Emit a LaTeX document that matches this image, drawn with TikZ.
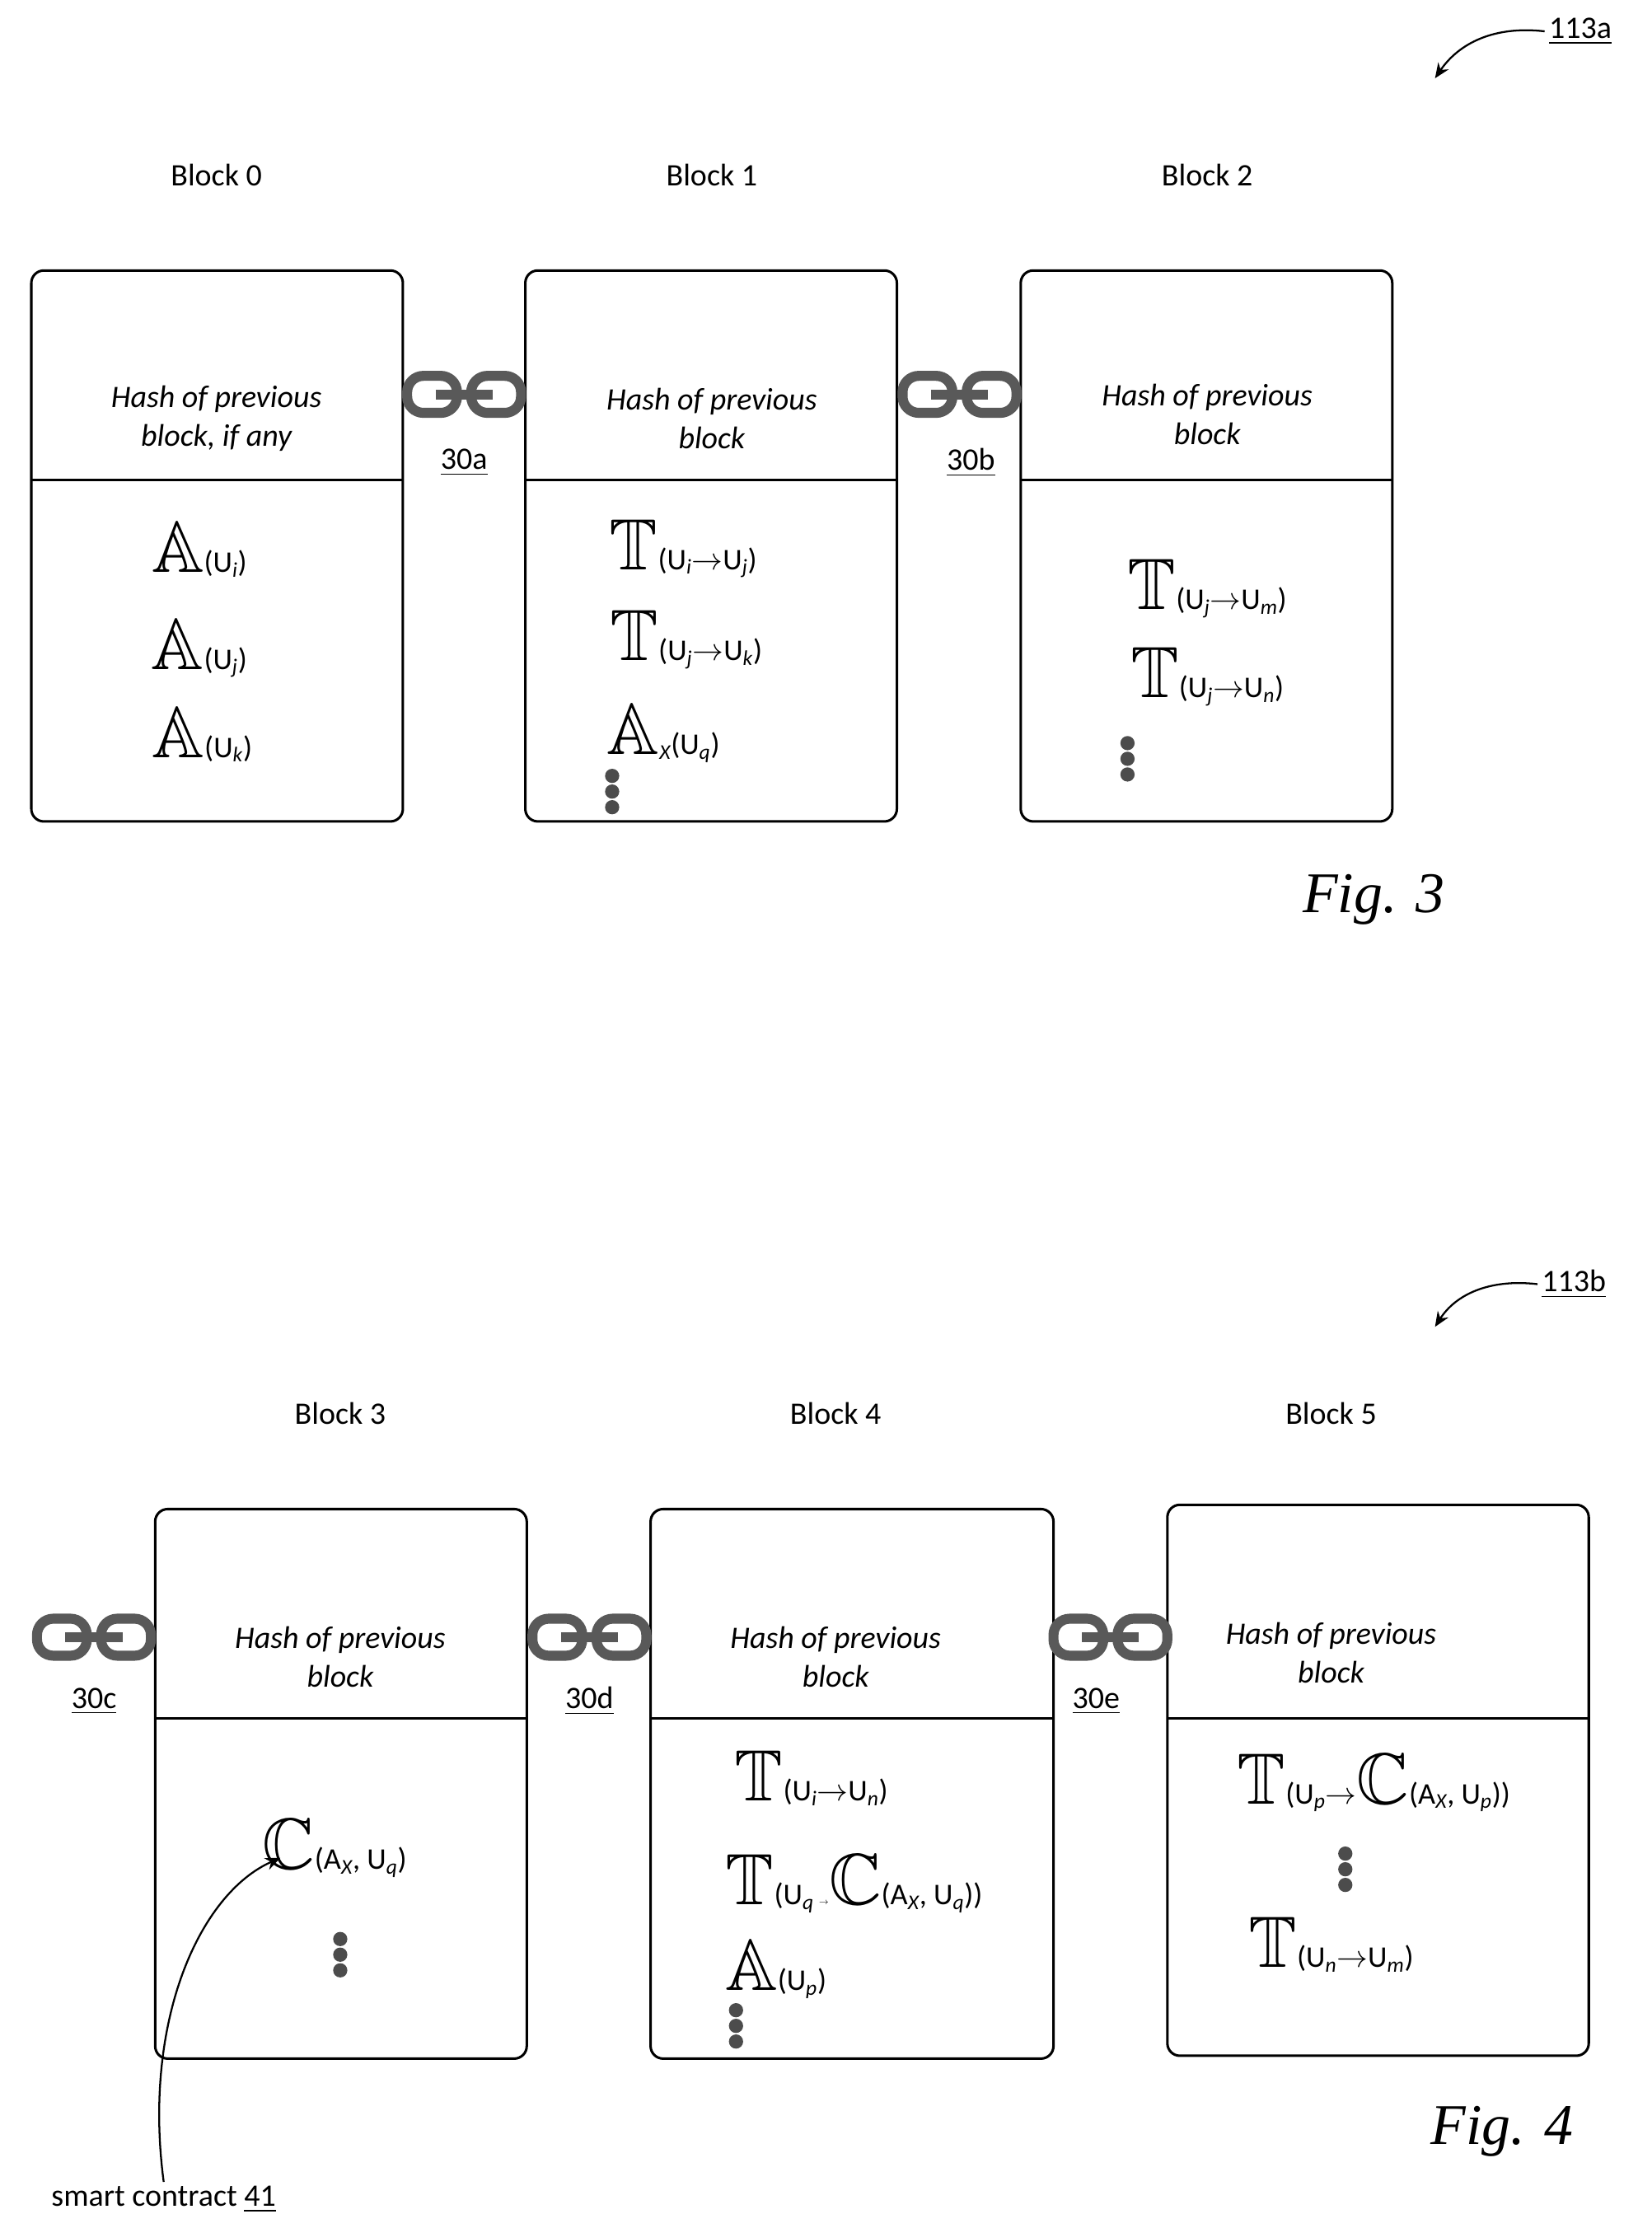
\documentclass[tikz,border=0pt]{standalone}
\usepackage{amssymb}
\usepackage{fontspec}
\setmainfont{Carlito}
\newfontfamily\figfont{Liberation Serif}
\usetikzlibrary{arrows.meta}
\newcommand\BB[1]{{\fontsize{58}{58}\selectfont$\mathbb{#1}$}}
\newcommand\sm{\fontsize{24}{24}\selectfont}
\newcommand\Us[1]{U\textsubscript{\itshape #1}}
\newcommand\ar{$\to$}
\tikzset{
 blk/.style={draw,line width=2pt,rounded corners=10pt},
 ttl/.style={font=\fontsize{25}{25}\selectfont},
 hash/.style={font=\fontsize{25}{31}\selectfont\itshape,align=center},
 lbl/.style={font=\fontsize{25}{25}\selectfont},
 ent/.style={inner sep=0pt,anchor=base},
 fig/.style={font=\figfont\itshape\fontsize{46}{46}\selectfont},
 link/.style={draw=black!65,line width=8pt,rounded corners=13pt},
 dot/.style={fill=black!70,draw=none},
 ref/.style={-{Stealth[length=12pt,width=10pt]},line width=1.5pt}
}
\newcommand\chain[2]{% center x, center y
 \draw[link] (#1-40,#2-13) rectangle (#1-5,#2+13);
 \draw[link] (#1+5,#2-13) rectangle (#1+40,#2+13);
 \draw[black!65,line width=8pt] (#1-20,#2) -- (#1+20,#2);}
\newcommand\vdotz[2]{\foreach \k in {0,1,2}{\fill[dot] (#1,#2+\k*11) circle (5);}}
\begin{document}
\begin{tikzpicture}[x=0.04cm,y=-0.04cm]
\useasboundingbox (0,0) rectangle (1160,1565);
% ---------- Fig 3
\node[ttl] (t0) at (152,123) {Block 0};
\node[ttl] (t1) at (500,123) {Block 1};
\node[ttl] (t2) at (848,123) {Block 2};
\foreach \x/\n in {22/b0,369/b1,717/b2}{
 \draw[blk] (\x,190) rectangle (\x+261,577);
 \draw[line width=2pt] (\x,337) -- (\x+261,337);}
\node[hash] (h0) at (152,294) {Hash of previous\\block, if any};
\node[hash] (h1) at (500,294) {Hash of previous\\block};
\node[hash] (h2) at (848,291) {Hash of previous\\block};
\chain{326}{277}\chain{674}{277}
\node[lbl] (l30a) at (326,325) {\underline{30a}};
\node[lbl] (l30b) at (682,325) {\underline{30b}};
\node[ent] (a1) at (140,402) {\BB{A}\sm(\Us{i})};
\node[ent] (a2) at (140,470) {\BB{A}\sm(\Us{j})};
\node[ent] (a3) at (142,532) {\BB{A}\sm(\Us{k})};
\node[ent] (e1) at (480,400) {\BB{T}\sm(\Us{i}\ar\Us{j})};
\node[ent] (e2) at (482,464) {\BB{T}\sm(\Us{j}\ar\Us{k})};
\node[ent] (e3) at (466,530) {\BB{A}\sm\textsubscript{\itshape X}(\Us{q})};
\vdotz{430}{545}
\node[ent] (f1) at (848,428) {\BB{T}\sm(\Us{j}\ar\Us{m})};
\node[ent] (f2) at (848,490) {\BB{T}\sm(\Us{j}\ar\Us{n})};
\vdotz{792}{522}
\node[fig] (fig3) at (965,632) {Fig. 3};
\node[lbl,anchor=west] (r113a) at (1085,22) {\underline{113a}};
\draw[ref] (r113a.west) .. controls (1050,18) and (1025,30) .. (1008,55);
% ---------- Fig 4
\node[ttl] (t3) at (239,993) {Block 3};
\node[ttl] (t4) at (587,993) {Block 4};
\node[ttl] (t5) at (935,993) {Block 5};
\draw[blk] (109,1060) rectangle (370,1446); \draw[line width=2pt] (109,1207) -- (370,1207);
\draw[blk] (457,1060) rectangle (740,1446); \draw[line width=2pt] (457,1207) -- (740,1207);
\draw[blk] (820,1057) rectangle (1116,1444); \draw[line width=2pt] (820,1207) -- (1116,1207);
\node[hash] (h3) at (239,1164) {Hash of previous\\block};
\node[hash] (h4) at (587,1164) {Hash of previous\\block};
\node[hash] (h5) at (935,1161) {Hash of previous\\block};
\chain{66}{1150}\chain{414}{1150}\chain{780}{1150}
\node[lbl] (l30c) at (66,1195) {\underline{30c}};
\node[lbl] (l30d) at (414,1195) {\underline{30d}};
\node[lbl] (l30e) at (770,1195) {\underline{30e}};
\node[ent] (c1) at (235,1313) {\BB{C}\sm($\mathrm{A}$\textsubscript{\itshape X}, \Us{q})};
\vdotz{239}{1362}
\node[ent] (g1) at (570,1265) {\BB{T}\sm(\Us{i}\ar\Us{n})};
\node[ent] (g2) at (600,1338) {\BB{T}\sm(\Us{q}\,{\scriptsize$\to$}\BB{C}\sm($\mathrm{A}$\textsubscript{\itshape X}, \Us{q}))};
\node[ent] (g3) at (545,1398) {\BB{A}\sm(\Us{p})};
\vdotz{517}{1412}
\node[ent] (k1) at (965,1267) {\BB{T}\sm(\Us{p}\ar\BB{C}\sm($\mathrm{A}$\textsubscript{\itshape X}, \Us{p}))};
\vdotz{945}{1302}
\node[ent] (k2) at (935,1382) {\BB{T}\sm(\Us{n}\ar\Us{m})};
\node[fig] (fig4) at (1055,1497) {Fig. 4};
\node[lbl,anchor=west] (r113b) at (1080,902) {\underline{113b}};
\draw[ref] (r113b.west) .. controls (1045,898) and (1022,910) .. (1008,932);
\node[lbl] (sc) at (115,1545) {smart contract \underline{41}};
\draw[ref] (sc.north) .. controls (100,1420) and (140,1330) .. (197,1305);
\end{tikzpicture}
\end{document}
